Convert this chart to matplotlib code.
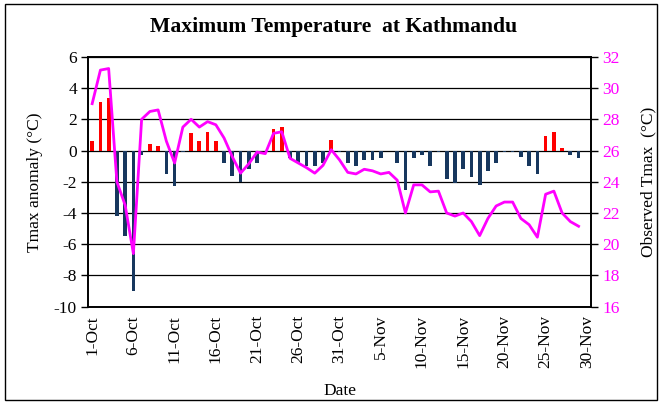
import numpy as np
import matplotlib
matplotlib.use("Agg")
import matplotlib.pyplot as plt
from matplotlib.patches import Rectangle

plt.rcParams['font.family'] = ['Liberation Serif', 'DejaVu Serif']
plt.rcParams['axes.unicode_minus'] = False

# daily values, 1 Oct - 30 Nov (30 Nov has no observation)
anomaly = [0.6, 3.1, 3.35, -4.2, -5.5, -9.0, -0.3, 0.4, 0.3, -1.5,
           -2.3, -0.1, 1.1, 0.6, 1.2, 0.6, -0.8, -1.6, -2.0, -1.2,
           -0.8, 0.0, 1.4, 1.5, -0.5, -0.8, -1.0, -1.0, -0.8, 0.7,
           -0.1, -0.8, -1.0, -0.6, -0.6, -0.5, 0.0, -0.8, -2.5, -0.5,
           -0.3, -1.0, -0.1, -1.8, -2.1, -1.2, -1.7, -2.2, -1.3, -0.8,
           -0.1, -0.1, -0.4, -1.0, -1.5, 0.9, 1.2, 0.15, -0.3, -0.5,
           np.nan]
tmax = [29.0, 31.15, 31.25, 24.0, 22.5, 19.4, 28.0, 28.5, 28.6, 26.6,
        25.2, 27.5, 28.0, 27.5, 27.85, 27.65, 26.8, 25.6, 24.55, 25.15,
        25.9, 25.8, 27.1, 27.2, 25.5, 25.2, 24.9, 24.55, 25.05, 26.05,
        25.4, 24.6, 24.5, 24.8, 24.7, 24.5, 24.6, 24.1, 22.0, 23.8,
        23.8, 23.35, 23.4, 22.0, 21.8, 22.0, 21.45, 20.55, 21.65, 22.45,
        22.7, 22.7, 21.65, 21.25, 20.45, 23.2, 23.4, 22.0, 21.45, 21.15,
        np.nan]
tick_labels = ["1-Oct", "6-Oct", "11-Oct", "16-Oct", "21-Oct", "26-Oct", "31-Oct",
               "5-Nov", "10-Nov", "15-Nov", "20-Nov", "25-Nov", "30-Nov"]

anomaly = np.array(anomaly)
tmax = np.array(tmax)
x = np.arange(len(anomaly))
colors = np.where(anomaly >= 0, "#FF0000", "#17375E")

fig = plt.figure(figsize=(6.67, 4.03), dpi=100)
ax = fig.add_axes([0.132, 0.239, 0.754, 0.620])
ax2 = ax.twinx()

ax.set_axisbelow(True)
ax.yaxis.grid(True, color="black", lw=0.9)
ax.bar(x, np.nan_to_num(anomaly), width=0.45, color=colors, zorder=2)
ax.set_ylim(-10, 6)
ax.set_yticks(np.arange(-10, 7, 2))
ax.set_xlim(-0.5, len(x) - 0.5)
ax.set_xticks(x[::5])
ax.set_xticklabels(tick_labels, rotation=90)
ax.tick_params(axis="x", length=0, pad=6, labelsize=12.5)
ax.tick_params(axis="y", length=5, width=1, labelsize=12.5, pad=3)
ax.set_ylabel("Tmax anomaly (°C)", fontsize=12.5, labelpad=8)
ax.set_xlabel("Date", fontsize=12.5, labelpad=11)

ax2.plot(x, tmax, color="#FF00FF", lw=2.0, zorder=3)
ax2.set_ylim(16, 32)
ax2.set_yticks(np.arange(16, 33, 2))
ax2.tick_params(axis="y", length=5, width=1, labelsize=12.5, labelcolor="#FF00FF", pad=3)
ax2.set_ylabel("Observed Tmax  (°C)", fontsize=12.5, labelpad=15)

for a in (ax, ax2):
    for s in a.spines.values():
        s.set_linewidth(1.2)
        s.set_color("black")

fig.text(0.5, 0.932, "Maximum Temperature  at Kathmandu", ha="center", va="center",
         fontsize=15.6, fontweight="bold")

fig.patches.append(Rectangle((0.008, 0.008), 0.977, 0.983, transform=fig.transFigure,
                             fill=False, ec="black", lw=1.0))

fig.savefig("out.png", dpi=100)
